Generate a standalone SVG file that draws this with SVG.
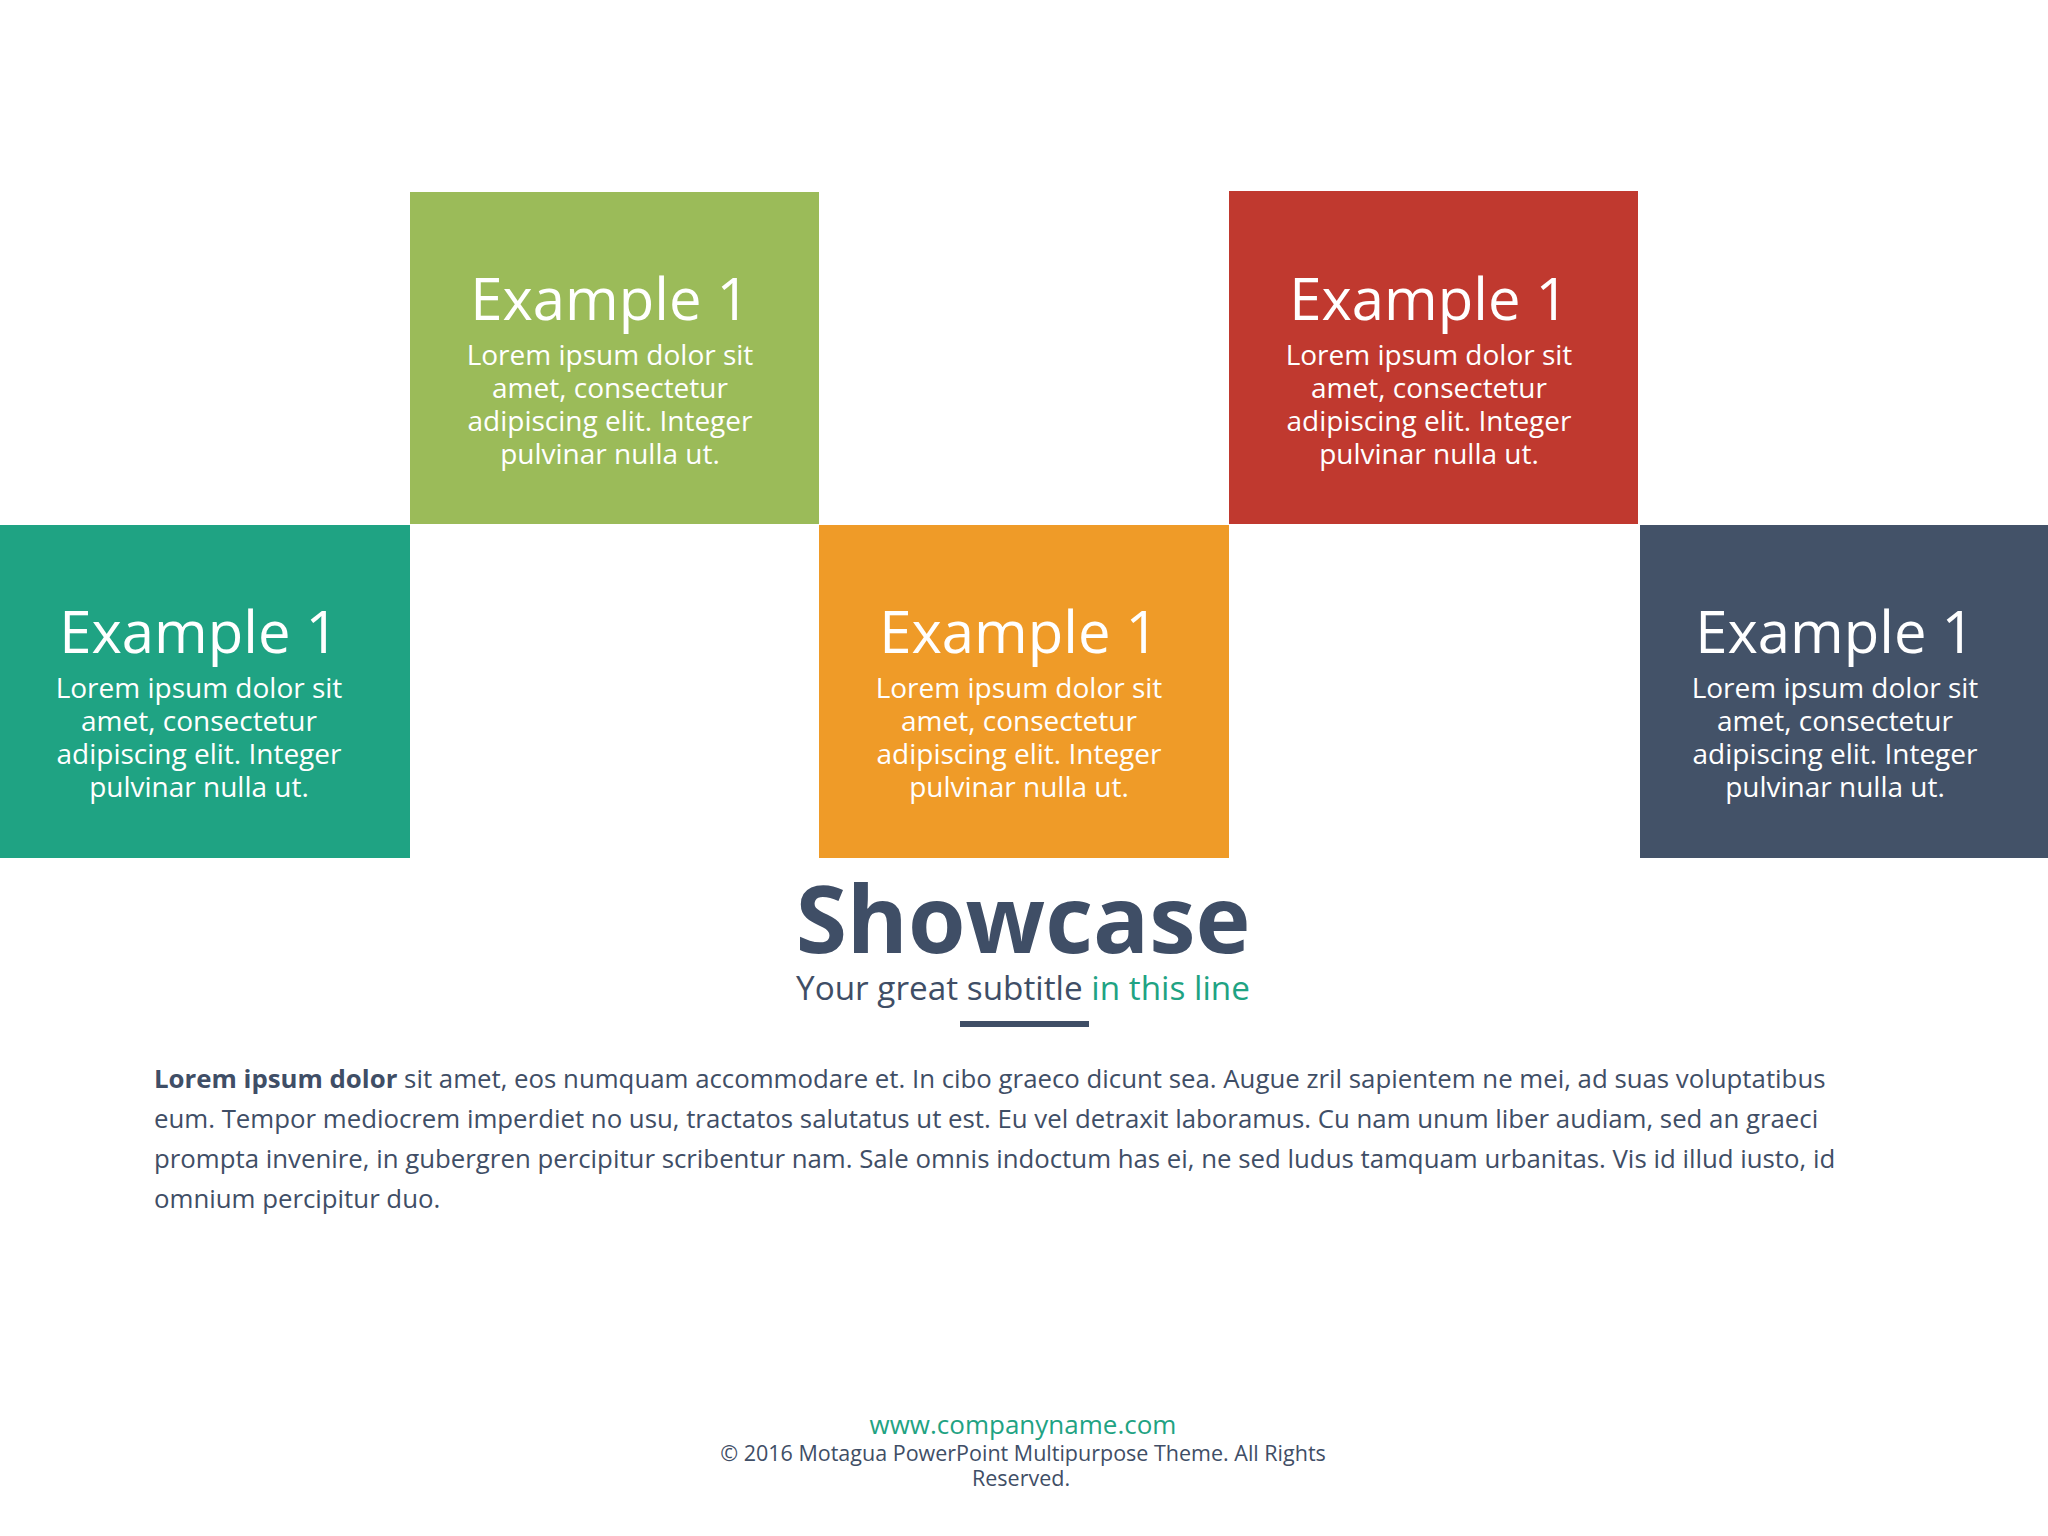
<svg xmlns="http://www.w3.org/2000/svg" width="2048" height="1536" viewBox="0 0 2048 1536">
<style>
text{font-family:"Open Sans","Noto Sans",sans-serif;}
.t{fill:#fff;font-size:58px;text-anchor:middle}
.b{fill:#fff;font-size:28px;text-anchor:middle}
.p{fill:#3F4E66;font-size:25.8px}
</style>
<rect width="2048" height="1536" fill="#fff"/>
<g id="box-green"><rect x="410" y="192" width="409" height="332" fill="#9BBB59"/>
<text class="t" x="610" y="320">Example 1</text>
<text class="b" x="610" y="365">Lorem ipsum dolor sit</text><text class="b" x="610" y="398">amet, consectetur</text><text class="b" x="610" y="431">adipiscing elit. Integer</text><text class="b" x="610" y="464">pulvinar nulla ut.</text></g>
<g id="box-teal"><rect x="0" y="525" width="410" height="333" fill="#1FA383"/>
<text class="t" x="199" y="653">Example 1</text>
<text class="b" x="199" y="698">Lorem ipsum dolor sit</text><text class="b" x="199" y="731">amet, consectetur</text><text class="b" x="199" y="764">adipiscing elit. Integer</text><text class="b" x="199" y="797">pulvinar nulla ut.</text></g>
<g id="box-orange"><rect x="819" y="525" width="410" height="333" fill="#EF9B28"/>
<text class="t" x="1019" y="653">Example 1</text>
<text class="b" x="1019" y="698">Lorem ipsum dolor sit</text><text class="b" x="1019" y="731">amet, consectetur</text><text class="b" x="1019" y="764">adipiscing elit. Integer</text><text class="b" x="1019" y="797">pulvinar nulla ut.</text></g>
<g id="box-red"><rect x="1229" y="191" width="409" height="333" fill="#C0392F"/>
<text class="t" x="1429" y="320">Example 1</text>
<text class="b" x="1429" y="365">Lorem ipsum dolor sit</text><text class="b" x="1429" y="398">amet, consectetur</text><text class="b" x="1429" y="431">adipiscing elit. Integer</text><text class="b" x="1429" y="464">pulvinar nulla ut.</text></g>
<g id="box-navy"><rect x="1640" y="525" width="408" height="333" fill="#435268"/>
<text class="t" x="1835" y="653">Example 1</text>
<text class="b" x="1835" y="698">Lorem ipsum dolor sit</text><text class="b" x="1835" y="731">amet, consectetur</text><text class="b" x="1835" y="764">adipiscing elit. Integer</text><text class="b" x="1835" y="797">pulvinar nulla ut.</text></g>
<g id="connectors"></g>
<g id="title">
<text x="1023" y="953" text-anchor="middle" font-size="93" font-weight="bold" fill="#3F4E66">Showcase</text>
<text x="1023" y="1000" text-anchor="middle" font-size="33.3" fill="#3F4E66">Your great subtitle <tspan fill="#1FA383">in this line</tspan></text>
<rect x="960" y="1021" width="129" height="6" fill="#3F4E66"/>
</g>
<g id="paragraph">
<text class="p" x="154" y="1088"><tspan font-weight="bold">Lorem ipsum dolor</tspan> sit amet, eos numquam accommodare et. In cibo graeco dicunt sea. Augue zril sapientem ne mei, ad suas voluptatibus</text>
<text class="p" x="154" y="1128">eum. Tempor mediocrem imperdiet no usu, tractatos salutatus ut est. Eu vel detraxit laboramus. Cu nam unum liber audiam, sed an graeci</text>
<text class="p" x="154" y="1168">prompta invenire, in gubergren percipitur scribentur nam. Sale omnis indoctum has ei, ne sed ludus tamquam urbanitas. Vis id illud iusto, id</text>
<text class="p" x="154" y="1208">omnium percipitur duo.</text>
</g>
<g id="footer">
<text x="1023" y="1434" text-anchor="middle" font-size="26" fill="#1FA383">www.companyname.com</text>
<text x="1023" y="1461" text-anchor="middle" font-size="21.5" fill="#3F4E66">© 2016 Motagua PowerPoint Multipurpose Theme. All Rights</text>
<text x="1021" y="1486" text-anchor="middle" font-size="21.5" fill="#3F4E66">Reserved.</text>
</g>
</svg>
